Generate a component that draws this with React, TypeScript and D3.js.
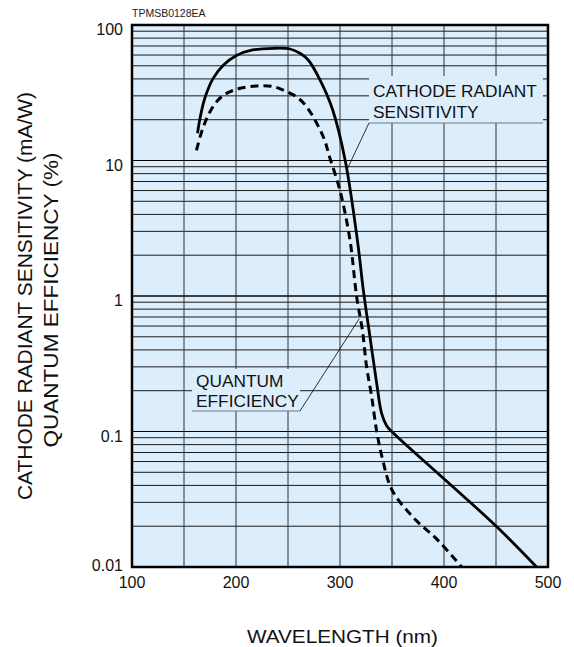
import React from "react";
import * as d3 from "d3";

const xTicks = [100, 200, 300, 400, 500];
const xGrid = [100, 150, 200, 250, 300, 350, 400, 450, 500];
const yTicks = [0.01, 0.1, 1, 10, 100];
const yTickLabels = ["0.01", "0.1", "1", "10", "100"];

const sensWavelength = [163, 165.4, 170, 178, 188, 200, 216, 236, 252, 261.5, 269.5, 281, 293, 305, 316.7, 322.4, 328.8, 335.3, 340, 345, 351, 401, 449, 489];
const sensValue = [15.9, 20.5, 28.8, 40.4, 50.7, 59.4, 65.4, 67.3, 66.5, 61.8, 55.2, 39, 23.6, 10, 2.59, 1.11, 0.5, 0.226, 0.136, 0.11, 0.098, 0.044, 0.0204, 0.01];

const qeWavelength = [162, 167, 173.4, 181.4, 191, 204, 220, 236, 249, 258, 268, 284, 290, 300, 309.6, 316, 321.5, 325.6, 330.5, 335.3, 341, 350, 370, 394, 417];
const qeValue = [11.9, 16.3, 21.7, 27.2, 31.3, 34.1, 35.5, 35.1, 32.2, 29.6, 24.9, 14.9, 10.6, 6, 2.59, 0.99, 0.56, 0.3, 0.18, 0.1, 0.062, 0.037, 0.0234, 0.0158, 0.01];

const W = 574;
const H = 647;
const left = 132;
const right = 548;
const top = 25;
const bottom = 567;

export default function App() {
  const x = d3.scaleLinear().domain([100, 500]).range([left, right]);
  const y = d3.scaleLog().domain([0.01, 100]).range([bottom, top]);

  const minorY: number[] = [];
  for (let e = -2; e < 2; e++) {
    for (let m = 1; m <= 9; m++) {
      const v = m * Math.pow(10, e);
      if (v > 0.01 && v < 100) minorY.push(v);
    }
  }

  const line = d3
    .line<[number, number]>()
    .x((d) => x(d[0]))
    .y((d) => y(d[1]))
    .curve(d3.curveCatmullRom.alpha(0.5));

  const sensData: [number, number][] = sensWavelength.map((w, i) => [w, sensValue[i]]);
  const qeData: [number, number][] = qeWavelength.map((w, i) => [w, qeValue[i]]);

  const font = "Arial, 'Liberation Sans', Helvetica, sans-serif";
  const bg = "#dcedfb";
  const ink = "#111";

  return (
    <svg width={W} height={H} style={{ position: "absolute", left: 0, top: 0 }} fontFamily={font}>
      <rect x={0} y={0} width={W} height={H} fill="#fff" />
      <text x={left} y={17} fontSize={10.5} fill="#222">TPMSB0128EA</text>
      <rect x={left} y={top} width={right - left} height={bottom - top} fill={bg} />
      {minorY.map((v) => (
        <line key={"h" + v} x1={left} x2={right} y1={y(v)} y2={y(v)} stroke="#1a1a1a" strokeWidth={1} />
      ))}
      {xGrid.map((v) => (
        <line key={"v" + v} x1={x(v)} x2={x(v)} y1={top} y2={bottom} stroke="#333" strokeWidth={1} />
      ))}
      {yTicks.map((v) => (
        <line key={"hm" + v} x1={left} x2={right} y1={y(v)} y2={y(v)} stroke="#000" strokeWidth={1} />
      ))}

      {/* label boxes */}
      <rect x={369} y={76} width={174} height={47} fill={bg} />
      <line x1={369} x2={543} y1={123} y2={123} stroke="#6f7b88" strokeWidth={1} />
      <line x1={369} x2={x(306.5)} y1={123} y2={y(8.5)} stroke="#000" strokeWidth={0.8} />
      <text x={373} y={97} fontSize={17.3} fill={ink}>CATHODE RADIANT</text>
      <text x={373} y={118} fontSize={17.3} fill={ink}>SENSITIVITY</text>

      <rect x={192} y={369} width={108} height={42} fill={bg} />
      <line x1={192} x2={300} y1={411} y2={411} stroke="#6f7b88" strokeWidth={1} />
      <line x1={300} x2={x(318.5)} y1={411} y2={y(0.68)} stroke="#000" strokeWidth={0.8} />
      <text x={196} y={387} fontSize={17.3} fill={ink}>QUANTUM</text>
      <text x={196} y={407} fontSize={17.3} fill={ink}>EFFICIENCY</text>

      <path d={line(qeData) || ""} fill="none" stroke="#000" strokeWidth={3} strokeDasharray="8,5" />
      <path d={line(sensData) || ""} fill="none" stroke="#000" strokeWidth={2.8} />

      <rect x={left} y={top} width={right - left} height={bottom - top} fill="none" stroke="#000" strokeWidth={2.5} />

      {yTicks.map((v, i) => (
        <text key={"yl" + v} x={123} y={v === 0.01 ? y(v) + 4 : y(v) + 10} fontSize={16} textAnchor="end" fill={ink}>
          {yTickLabels[i]}
        </text>
      ))}
      {xTicks.map((v) => (
        <text key={"xl" + v} x={x(v)} y={588} fontSize={16} textAnchor="middle" fill={ink}>
          {v}
        </text>
      ))}
      <text x={342.5} y={643} fontSize={19} textAnchor="middle" textLength={191} lengthAdjust="spacingAndGlyphs" fill={ink}>
        WAVELENGTH (nm)
      </text>
      <text transform={`translate(32, 296) rotate(-90)`} fontSize={21} textAnchor="middle" textLength={408} lengthAdjust="spacingAndGlyphs" fill={ink}>
        CATHODE RADIANT SENSITIVITY  (mA/W)
      </text>
      <text transform={`translate(58, 300) rotate(-90)`} fontSize={21} textAnchor="middle" textLength={295} lengthAdjust="spacingAndGlyphs" fill={ink}>
        QUANTUM EFFICIENCY (%)
      </text>
    </svg>
  );
}
